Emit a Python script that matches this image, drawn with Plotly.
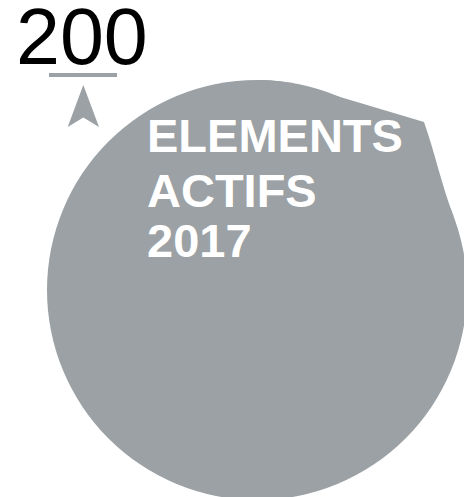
import plotly.graph_objects as go

# ---- content ----
headline_value = "200"
label_lines = ["ELEMENTS", "ACTIFS", "2017"]
blob_color = "#9BA1A4"
text_font = "Liberation Sans, Arial, Helvetica, sans-serif"

W, H = 464, 497     # browser window

fig = go.Figure()
# invisible anchor trace so the axes (pixel-like scale) exist
fig.add_trace(go.Scatter(x=[0, W], y=[0, H], mode="markers",
                         marker=dict(opacity=0), hoverinfo="skip", showlegend=False))

shapes = [
    # main round blob
    dict(type="circle", xref="x", yref="y", x0=47, x1=467, y0=80, y1=500,
         fillcolor=blob_color, line=dict(width=0), layer="below"),
    # pointed bulge at top right
    dict(type="path", xref="x", yref="y",
         path="M 257 80 C 285 80 300 85 320 91 L 424 122 C 434.7 152 441.6 185 453.5 216 L 257 290 Z",
         fillcolor=blob_color, line=dict(width=0), layer="below"),
    # underline below the number
    dict(type="line", xref="x", yref="y", x0=49, x1=117, y0=75, y1=75,
         line=dict(color=blob_color, width=4)),
    # upward arrow
    dict(type="path", xref="x", yref="y",
         path="M 83.3 85 L 99 127 L 83.3 117.5 L 67.7 127 Z",
         fillcolor=blob_color, line=dict(width=0)),
]

annotations = [
    dict(text=headline_value, x=14, y=36.7, xref="x", yref="y",
         xanchor="left", yanchor="middle", showarrow=False,
         font=dict(family=text_font, size=79, color="#000000")),
]
line_y = [135.9, 190.4, 240.9]
for txt, yy in zip(label_lines, line_y):
    annotations.append(dict(text=txt, x=145, y=yy, xref="x", yref="y",
                            xanchor="left", yanchor="middle", showarrow=False,
                            font=dict(family=text_font, size=47, color="#FFFFFF",
                                      weight="bold")))

fig.update_layout(
    width=W, height=H,
    margin=dict(l=0, r=0, t=0, b=0),
    paper_bgcolor="white", plot_bgcolor="white",
    xaxis=dict(range=[0, W], visible=False, fixedrange=True),
    yaxis=dict(range=[H, 0], visible=False, fixedrange=True),
    shapes=shapes, annotations=annotations,
    showlegend=False,
)

fig.write_html(
    "out.html",
    config={"displayModeBar": False},
    post_script="document.body.style.margin='0';document.body.style.overflow='hidden';",
)
